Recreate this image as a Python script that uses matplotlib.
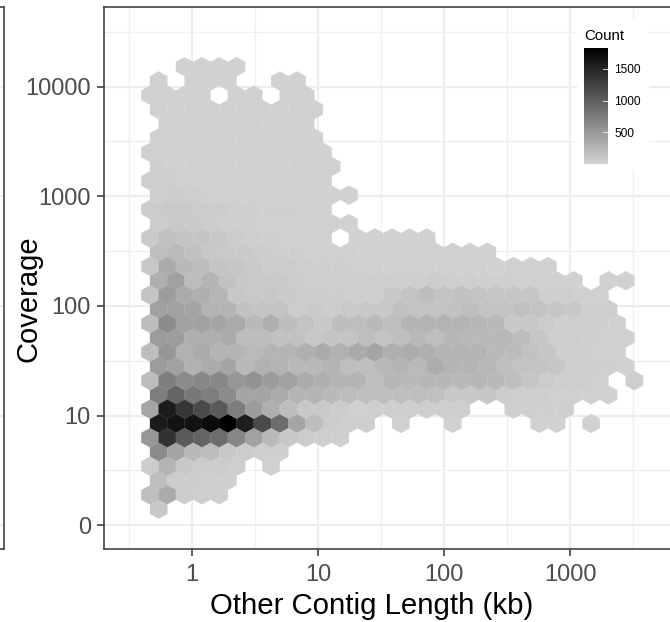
import numpy as np
import matplotlib
matplotlib.use("Agg")
import matplotlib.pyplot as plt
from matplotlib.colors import LinearSegmentedColormap
from matplotlib.patches import Rectangle

plt.rcParams['font.family'] = ['Liberation Sans', 'DejaVu Sans']

# counts per hexagon, top row first; 0 = no hexagon. Index = column in the row's lattice.
hex_rows = [
 [0,0,25,25,25,25],
 [25,0,25,25,25,0,0,25,25],
 [25,25,25,25,0,25,25,0,25,25],
 [25,25,25,25,25,25,25,25,25,25],
 [0,25,25,25,25,25,25,25,25,25],
 [30,30,25,25,25,25,25,25,25,25],
 [40,35,30,25,25,25,25,25,25,25,25],
 [40,35,30,30,25,25,25,25,25,25,25],
 [50,45,35,30,30,25,25,25,25,25,25],
 [50,60,45,35,30,25,25,25,25,25,25,25],
 [60,90,80,70,60,50,40,40,40,30,30],
 [70,90,80,60,50,40,35,30,30,25,25,25],
 [80,170,130,130,100,60,50,40,35,30,30,0,25,25,25,25,25],
 [180,220,170,100,90,80,60,50,40,35,30,30,25,25,25,25,25,25,25,25],
 [100,360,230,200,130,120,90,70,60,50,40,40,35,30,30,30,30,30,25,25,25,25,25,25],
 [310,440,200,270,150,100,90,80,70,50,50,50,50,45,45,45,70,50,50,40,40,35,35,30,25,0,25,25],
 [130,480,350,310,260,110,90,100,80,60,60,55,50,50,95,140,200,140,165,140,120,115,115,50,45,35,35],
 [440,440,400,270,270,150,130,130,70,80,70,90,95,95,165,140,140,155,180,140,140,165,140,115,95,50,50],
 [190,620,440,440,400,360,230,310,190,140,100,190,180,225,180,270,285,285,270,250,225,95,95,70,50,50,40,30],
 [480,480,310,310,350,190,190,150,150,100,130,130,180,140,180,225,180,250,225,225,245,200,115,50,50,40,35,30],
 [190,530,300,350,270,270,230,270,270,310,350,300,355,400,310,340,310,270,285,270,225,210,155,120,50,50,35,25],
 [480,440,300,350,400,230,300,270,230,230,270,180,180,225,270,225,340,270,270,250,180,140,140,115,50,50,40,25],
 [190,740,620,660,660,530,570,480,440,350,310,270,270,180,245,225,245,250,225,245,225,180,115,70,50,50,35,0,50],
 [740,960,790,740,620,400,400,350,270,270,230,190,180,180,180,180,165,95,95,115,70,50,50,35,35,35,25],
 [400,1590,1350,1180,1050,740,480,310,190,100,90,60,35,50,50,50,50,50,50,0,0,40,40,40,40],
 [1590,1670,1670,1720,1830,1570,1180,880,400,190,60,50,50,0,25,0,0,25,0,0,0,0,25,25,0,25],
 [530,1400,1050,960,880,660,440,230,100,60,50,40],
 [620,400,230,190,100,60,50,40],
 [60,270,100,70,60,50,0,30],
 [180,70,60,50,40],
 [180,350,60,50,40],
 [100],
]
x_ticks = [0, 1, 2, 3]
x_minor = [-0.5, 0.5, 1.5, 2.5, 3.5]
x_tick_labels = ["1", "10", "100", "1000"]
y_ticks = [0, 1, 2, 3, 4]
y_minor = [0.5, 1.5, 2.5, 3.5, 4.5]
y_tick_labels = ["0", "10", "100", "1000", "10000"]
legend_ticks = [500, 1000, 1500]
x_title = "Other Contig Length (kb)"
y_title = "Coverage"
legend_title = "Count"

W, H = 670, 622
fig = plt.figure(figsize=(W/100, H/100), dpi=100)
L, R, T, B = 104, 672, 7, 549
ax = fig.add_axes([L/W, 1-B/H, (R-L)/W, (B-T)/H])
xlim = ((L-192.3)/126.0, (R-192.3)/126.0)
ylim = ((525.3-B)/109.7, (525.3-T)/109.7)

# hex lattice in log10 units
dx = 17.3/126.0
dy = 14.27/109.7
x_even = (150-192.3)/126.0
y_top = (525.3-66.7)/109.7
xs, ys, cs = [], [], []
for r, row in enumerate(hex_rows):
    for c, v in enumerate(row):
        if v > 0:
            xs.append(x_even + c*dx + (dx/2 if r % 2 else 0))
            ys.append(y_top - r*dy)
            cs.append(v)

cmap = LinearSegmentedColormap.from_list("cnt", ["#D3D3D3", "#000000"])
vmax = 1830
n_rows = len(hex_rows)
xmin = x_even + dx/2 - dx
ymin = y_top - (n_rows-1)*dy
ax.hexbin(xs, ys, C=cs, gridsize=(32, 16),
          extent=(xmin, xmin+32*dx, ymin, ymin+16*2*dy),
          reduce_C_function=np.sum, cmap=cmap, vmin=0, vmax=vmax,
          edgecolors='face', linewidths=0.2, zorder=3)

ax.set_xticks(x_ticks); ax.set_xticklabels(x_tick_labels)
ax.set_yticks(y_ticks); ax.set_yticklabels(y_tick_labels)
ax.set_xticks(x_minor, minor=True)
ax.set_yticks(y_minor, minor=True)
ax.set_xlim(xlim); ax.set_ylim(ylim)
ax.grid(True, which='major', color='#EDEDED', lw=1.6, zorder=1)
ax.grid(True, which='minor', color='#F0F0F0', lw=1.0, zorder=1)
ax.set_axisbelow(True)
ax.tick_params(which='minor', length=0)
ax.tick_params(which='major', length=5, width=1.1, color='#333333', labelsize=17,
               labelcolor='#4D4D4D')
ax.tick_params(axis='y', which='major', pad=4.5)
ax.tick_params(axis='x', which='major', pad=5.5)
for s in ax.spines.values():
    s.set_linewidth(1.2); s.set_color('#444444')

# right edge of the neighbouring panel, cut off by the picture's left border
ax0 = fig.add_axes([-60/W, 1-B/H, 64/W, (B-T)/H])
ax0.set_ylim(ylim)
ax0.set_xticks([])
ax0.set_yticks(y_ticks); ax0.set_yticklabels([])
ax0.tick_params(length=0)
ax0.grid(True, axis='y', color='#EDEDED', lw=1.6)
for s in ax0.spines.values():
    s.set_linewidth(1.2); s.set_color('#444444')

fig.text(371.5/W, 1-605.5/H, x_title, fontsize=21.2, ha='center', va='center')
fig.text(29/W, 1-299/H, y_title, fontsize=21, rotation=90, ha='center', va='center')

# legend background
fig.add_artist(Rectangle((577/W, 1-170/H), 72/W, 150/H, transform=fig.transFigure,
                         fc='white', ec='none', zorder=5))
cax = fig.add_axes([584/W, 1-164/H, 24/W, 116/H], zorder=6)
grad = np.linspace(0, vmax, 256).reshape(-1, 1)
cax.imshow(grad, origin='lower', aspect='auto', cmap=cmap, vmin=0, vmax=vmax,
           extent=(0, 1, 0, vmax))
cax.set_xticks([])
cax.yaxis.tick_right()
cax.set_yticks(legend_ticks)
cax.set_yticklabels([str(t) for t in legend_ticks], fontsize=8.6, color='black')
cax.tick_params(axis='y', length=0, pad=4.5)
for t in legend_ticks:
    cax.plot([0.8, 1.0], [t, t], color='white', lw=0.7, alpha=0.8)
cax.set_xlim(0, 1); cax.set_ylim(0, vmax)
for s in cax.spines.values():
    s.set_visible(False)
fig.text(584/W, 1-35.5/H, legend_title, fontsize=10.8, ha='left', va='center', zorder=7)

fig.savefig("out.png", dpi=100)
